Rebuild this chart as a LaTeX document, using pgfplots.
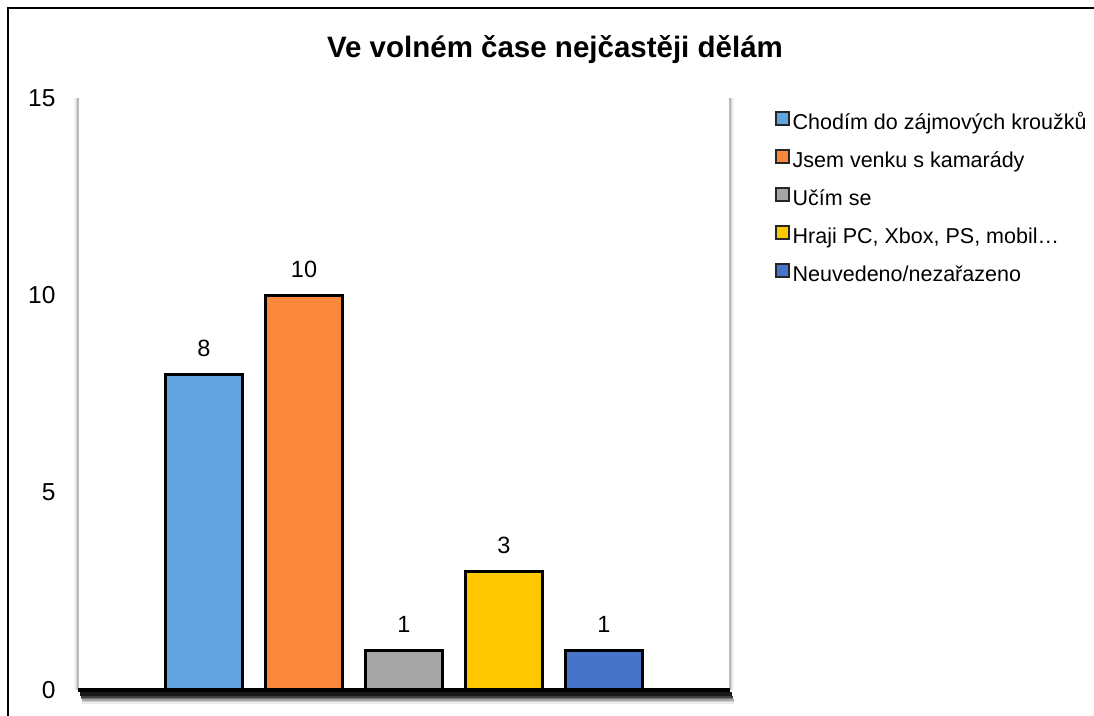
\documentclass[border=0pt]{standalone}
\usepackage{fontspec}
\setmainfont{Liberation Sans}
\usepackage{pgfplots}
\pgfplotsset{compat=1.18}

\definecolor{cA}{RGB}{97,163,222}
\definecolor{cB}{RGB}{249,136,58}
\definecolor{cC}{RGB}{165,165,165}
\definecolor{cD}{RGB}{255,200,0}
\definecolor{cE}{RGB}{70,116,200}

\begin{document}
\begin{tikzpicture}
\path[use as bounding box] (0pt,0pt) rectangle (1094pt,715pt);
% outer frame (top and left only)
\draw[line width=1.5pt] (8pt,-2pt) -- (8pt,707pt) -- (1096pt,707pt);

\node[font=\fontsize{29.5}{34}\selectfont\bfseries] at (555pt,665pt) {Ve volném čase nejčastěji dělám};

\begin{axis}[
    at={(78pt,25pt)}, anchor=south west,
    scale only axis,
    width=652pt, height=592pt,
    xmin=-1.26, xmax=5.26,
    ymin=0, ymax=15,
    axis x line=none,
    axis y line*=left,
    y axis line style={draw=none},
    ytick={0,5,10,15},
    ytick style={draw=none},
    yticklabel style={font=\fontsize{24.5}{28}\selectfont, xshift=-19pt},
    xtick=\empty,
    /pgf/number format/assume math mode=true,
    ybar, bar shift=0pt, bar width=77pt,
    nodes near coords,
    every node near coord/.append style={font=\fontsize{23.5}{28}\selectfont, yshift=13pt},
    legend style={
        at={(1.069,0.979)}, anchor=north west,
        draw=none, fill=none,
        font=\fontsize{21.5}{26}\selectfont,
        row sep=14.5pt, inner sep=0pt,
        nodes={inner sep=0pt, text height=16pt, text depth=5pt},
    },
    legend cell align=left,
    legend image code/.code={\draw[#1, line width=2pt, draw=black!85] (1pt,-1pt) rectangle (14pt,12pt); \path (16pt,0pt);},
    clip=false,
]
% plot-area edges with soft shadow
\draw[gray, line width=1.5pt, opacity=0.55] (rel axis cs:0,0) -- (rel axis cs:0,1);
\draw[gray, line width=1.5pt, opacity=0.3] ([xshift=-1.5pt]rel axis cs:0,0) -- ([xshift=-1.5pt]rel axis cs:0,1);
\draw[gray, line width=1.5pt, opacity=0.12] ([xshift=-3pt]rel axis cs:0,0) -- ([xshift=-3pt]rel axis cs:0,1);
\draw[gray, line width=1.5pt, opacity=0.55] (rel axis cs:1,0) -- (rel axis cs:1,1);
\draw[gray, line width=1.5pt, opacity=0.3] ([xshift=1.5pt]rel axis cs:1,0) -- ([xshift=1.5pt]rel axis cs:1,1);
\draw[gray, line width=1.5pt, opacity=0.12] ([xshift=3pt]rel axis cs:1,0) -- ([xshift=3pt]rel axis cs:1,1);

\addplot[fill=cA, draw=black, line width=3pt] coordinates {(0,8)};
\addplot[fill=cB, draw=black, line width=3pt] coordinates {(1,10)};
\addplot[fill=cC, draw=black, line width=3pt] coordinates {(2,1)};
\addplot[fill=cD, draw=black, line width=3pt] coordinates {(3,3)};
\addplot[fill=cE, draw=black, line width=3pt] coordinates {(4,1)};
\legend{Chodím do zájmových kroužků, Jsem venku s kamarády, Učím se, {Hraji PC, Xbox, PS, mobil…}, Neuvedeno/nezařazeno}

% baseline with soft shadow
\draw[black, line width=1.5pt, opacity=0.08] ([yshift=-13pt, xshift=4pt]rel axis cs:0,0) -- ([yshift=-13pt, xshift=4pt]rel axis cs:1,0);
\draw[black, line width=1.5pt, opacity=0.18] ([yshift=-11.5pt, xshift=4pt]rel axis cs:0,0) -- ([yshift=-11.5pt, xshift=4pt]rel axis cs:1,0);
\draw[black, line width=1.5pt, opacity=0.35] ([yshift=-10pt, xshift=4pt]rel axis cs:0,0) -- ([yshift=-10pt, xshift=4pt]rel axis cs:1,0);
\draw[black, line width=1.5pt, opacity=0.55] ([yshift=-8.5pt, xshift=3pt]rel axis cs:0,0) -- ([yshift=-8.5pt, xshift=3pt]rel axis cs:1,0);
\draw[black, line width=1.5pt, opacity=0.75] ([yshift=-7pt, xshift=3pt]rel axis cs:0,0) -- ([yshift=-7pt, xshift=3pt]rel axis cs:1,0);
\draw[black, line width=4pt, opacity=0.9] ([yshift=-4pt, xshift=2pt]rel axis cs:0,0) -- ([yshift=-4pt, xshift=2pt]rel axis cs:1,0);
\draw[black, line width=4pt] (rel axis cs:0,0) -- (rel axis cs:1,0);
\end{axis}
\end{tikzpicture}
\end{document}
